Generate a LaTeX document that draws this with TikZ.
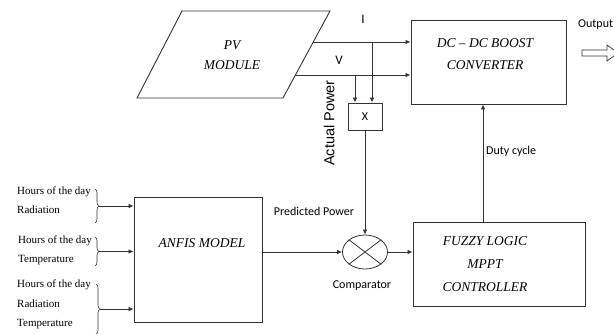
\documentclass[tikz,border=0pt]{standalone}
\usepackage{fontspec}
\setmainfont{Liberation Serif}
\newfontfamily\calfont{Carlito}
\newfontfamily\arialfont{Liberation Sans}
\usetikzlibrary{shapes.geometric,decorations.pathreplacing,arrows.meta,calc}
\begin{document}
\begin{tikzpicture}[x=1pt,y=-1pt]
\tikzset{
 line/.style={draw=black!80, line width=0.8pt},
 arr/.style={line, -{Latex[length=5pt,width=4.5pt]}},
 blk/.style={draw=black!80, line width=0.9pt, inner sep=0pt},
 btxt/.style={font=\fontsize{13.5}{22}\selectfont\itshape, align=center, inner sep=0pt},
 lbl/.style={font=\calfont\fontsize{12}{14}\selectfont, inner sep=0pt, anchor=mid},
 inp/.style={font=\fontsize{11}{13}\selectfont, anchor=mid west, inner sep=0pt},
 brc/.style={draw=black!80, line width=0.6pt, decorate, decoration={brace,amplitude=4pt}},
}
\useasboundingbox (0,0) rectangle (614,333);

% PV module (parallelogram)
\draw[blk] (182,11) coordinate (p1) -- (330,11) coordinate (p2) -- (283,98) coordinate (p3) -- (137,98) coordinate (p4) -- cycle;
\node[btxt, font=\fontsize{13.5}{20}\selectfont\itshape] (pv) at (232,55) {PV\\MODULE};
\coordinate (iS) at ($(p2)!0.356!(p3)$);
\coordinate (vS) at ($(p2)!0.736!(p3)$);

% DC-DC boost converter
\node[blk, minimum width=155pt, minimum height=84pt] (dc) at (488.5,62) {};
\node[btxt] (dct) at (485,54) {DC -- DC BOOST\\CONVERTER};

% Multiplier
\node[blk, minimum width=34pt, minimum height=27pt, font=\calfont\fontsize{12}{14}\selectfont] (xb) at (365,116.5) {X};

% ANFIS model
\node[blk, minimum width=128pt, minimum height=125pt] (anfis) at (198,259.5) {};
\node[btxt] (anft) at (202,243) {ANFIS MODEL};

% Comparator
\node[draw=black!80, line width=0.8pt, ellipse, minimum width=45pt, minimum height=34pt, inner sep=0pt] (cmp) at (365,252) {};
\draw[line] (cmp.north west) -- (cmp.south east) (cmp.north east) -- (cmp.south west);

% Fuzzy logic controller
\node[blk, minimum width=172pt, minimum height=84pt] (fz) at (499,264) {};
\node[btxt, font=\fontsize{13.5}{23}\selectfont\itshape] (fzt) at (485,264) {FUZZY LOGIC\\MPPT\\CONTROLLER};

% I and V lines
\draw[arr] (iS) -- (iS -| dc.west);
\draw[arr] (vS) -- (vS -| dc.west);
\node[lbl, font=\calfont\fontsize{13}{14}\selectfont] (il) at (363,21) {I};
\node[lbl, font=\calfont\fontsize{13}{14}\selectfont] (vl) at (339,62) {V};
\coordinate (vb) at (355,0);
\coordinate (ib) at (372,0);
\draw[arr] (vb |- vS) -- (vb |- xb.north);
\draw[arr] (ib |- iS) -- (ib |- xb.north);
\node[font=\arialfont\fontsize{14.5}{16}\selectfont, rotate=90, anchor=mid, inner sep=0pt] (ap) at (332,123) {Actual Power};

% X -> comparator
\draw[arr] (xb.south) -- (cmp.north);

% ANFIS -> comparator -> fuzzy
\draw[arr] (anfis.east |- cmp.west) -- (cmp.west);
\draw[arr] (cmp.east) -- (fz.west |- cmp.east);
\node[lbl] (pp) at (314,213) {Predicted Power};
\node[lbl] (cl) at (362,286) {Comparator};

% Duty cycle
\coordinate (dx) at (483,0);
\draw[arr] (dx |- fz.north) -- (dx |- dc.south);
\node[lbl, anchor=mid west] (dl) at (486,152) {Duty cycle};

% Output
\node[lbl, anchor=mid west] (ol) at (578,25) {Output};
\draw[line, line width=0.7pt] (582,50) -- (607,50) -- (607,45) -- (618,53) -- (607,61) -- (607,56) -- (582,56) -- cycle;

% Inputs
\node[inp] (a1) at (17,192) {Hours of the day};
\node[inp] (a2) at (17,211) {Radiation};
\node[inp] (b1) at (18,241) {Hours of the day};
\node[inp] (b2) at (18,260) {Temperature};
\node[inp] (c1) at (17,285) {Hours of the day};
\node[inp] (c2) at (17,305) {Radiation};
\node[inp] (c3) at (17,324) {Temperature};

\draw[brc] (95,189) -- (95,223);
\draw[brc] (95,237) -- (95,266);
\draw[brc] (96,284) -- (96,334);
\coordinate (t1) at (99,206);
\coordinate (t2) at (99,251.5);
\coordinate (t3) at (100,309);
\draw[arr] (t1) -- (t1 -| anfis.west);
\draw[arr] (t2) -- (t2 -| anfis.west);
\draw[arr] (t3) -- (t3 -| anfis.west);
\end{tikzpicture}
\end{document}
